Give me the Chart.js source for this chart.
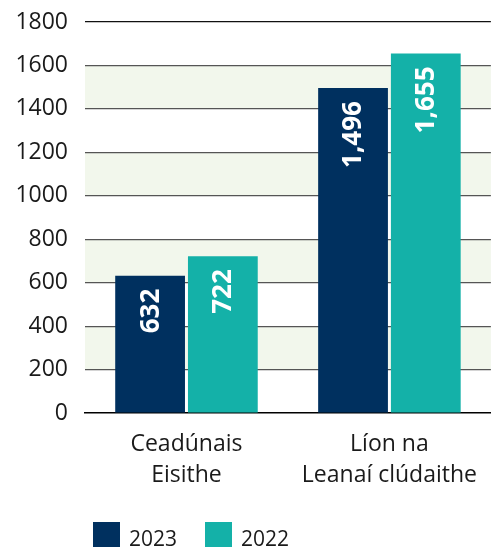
<!DOCTYPE html>
<html><head><meta charset="utf-8">
<script src="https://cdn.jsdelivr.net/npm/chart.js@4/dist/chart.umd.min.js"></script>
<style>html,body{margin:0;padding:0;overflow:hidden;background:#fff;width:493px;height:547px}#wrap{width:493px;height:547px;position:relative}</style>
</head><body><div id="wrap"><canvas id="c"></canvas></div>
<script>
const categories = [["Ceadúnais","Eisithe"],["Líon na","Leanaí clúdaithe"]];
const seriesNames = ["2023","2022"];
const values2023 = [632, 1496];
const values2022 = [722, 1655];
const valueLabels2023 = ["632","1,496"];
const valueLabels2022 = ["722","1,655"];
const yTicks = [0,200,400,600,800,1000,1200,1400,1600,1800];
const bands = [[200,400],[600,800],[1000,1200],[1400,1600]];
const colors = ["#00305f","#14b1a8"];

const FONT = "'Open Sans', 'Noto Sans', sans-serif";

const bandPlugin = {
  id:'bands',
  beforeDraw(chart){
    const {ctx, chartArea:a, scales:{y}} = chart;
    ctx.save(); ctx.fillStyle = '#f2f7ec';
    bands.forEach(([lo,hi])=>{
      const t = y.getPixelForValue(hi), b = y.getPixelForValue(lo);
      ctx.fillRect(a.left, t, a.right-a.left, b-t);
    });
    ctx.restore();
  }
};
const labelPlugin = {
  id:'vlabels',
  afterDatasetsDraw(chart){
    const ctx = chart.ctx;
    const labs = [valueLabels2023, valueLabels2022];
    ctx.save();
    ctx.fillStyle = '#fff';
    ctx.font = "bold 26px " + FONT;
    ctx.textAlign = 'right';
    ctx.textBaseline = 'middle';
    chart.data.datasets.forEach((ds,di)=>{
      chart.getDatasetMeta(di).data.forEach((bar,i)=>{
        ctx.save();
        ctx.translate(bar.x+1, bar.y+13);
        ctx.rotate(-Math.PI/2);
        ctx.fillText(labs[di][i], 0, 0);
        ctx.restore();
      });
    });
    ctx.restore();
  }
};
const legendPlugin = {
  id:'customLegend',
  afterDraw(chart){
    const ctx = chart.ctx;
    const xs = [93, 205];
    ctx.save();
    ctx.font = "21px " + FONT;
    ctx.textBaseline = 'alphabetic';
    ctx.textAlign = 'left';
    chart.data.datasets.forEach((ds,i)=>{
      ctx.fillStyle = ds.backgroundColor;
      ctx.fillRect(xs[i], 522, 27, 27);
      ctx.fillStyle = '#1a1a1a';
      ctx.fillText(ds.label, xs[i]+36, 546);
    });
    ctx.restore();
  }
};

new Chart(document.getElementById('c'), {
  type:'bar',
  data:{
    labels: categories,
    datasets:[
      {label:seriesNames[0], data:values2023, backgroundColor:colors[0], categoryPercentage:0.717, barPercentage:0.959},
      {label:seriesNames[1], data:values2022, backgroundColor:colors[1], categoryPercentage:0.717, barPercentage:0.959}
    ]
  },
  options:{
    responsive:true, maintainAspectRatio:false, animation:false,
    layout:{padding:{top:22,right:0,left:0,bottom:0}},
    plugins:{
      tooltip:{enabled:false},
      legend:{display:false}
    },
    scales:{
      x:{
        afterFit(s){ s.height = 134; },
        grid:{display:false, drawTicks:false},
        border:{color:'#000', width:1.5},
        ticks:{color:'#1a1a1a', font:{family:FONT,size:23, lineHeight:1.35}, padding:16, maxRotation:0, autoSkip:false}
      },
      y:{
        min:0, max:1800,
        afterFit(s){ s.width = 85; s.paddingTop = 0; s.paddingBottom = 0; },
        afterBuildTicks(s){ s.ticks = yTicks.map(v=>({value:v})); },
        border:{display:false},
        grid:{drawTicks:false, color:(c)=> c.tick && c.tick.value===1800 ? '#111' : (c.tick && c.tick.value===0 ? 'rgba(0,0,0,0)' : '#555'), lineWidth:1.2},
        ticks:{color:'#1a1a1a', font:{family:FONT,size:23, lineHeight:0.5}, padding:17, callback:(v)=>String(v)}
      }
    }
  },
  plugins:[bandPlugin,labelPlugin,legendPlugin]
});
</script></body></html>
